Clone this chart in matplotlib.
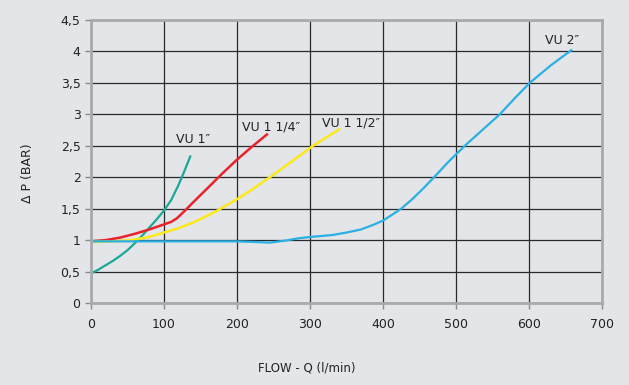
import matplotlib.pyplot as plt

# flow (l/min) / pressure drop (bar)
vu1_q = [0, 10, 20, 30, 40, 50, 60, 70, 80, 90, 100, 110, 120, 128, 136]
vu1_p = [0.47, 0.53, 0.6, 0.67, 0.75, 0.84, 0.95, 1.07, 1.2, 1.33, 1.47, 1.64, 1.88, 2.1, 2.33]

vu114_q = [0, 20, 40, 60, 80, 100, 110, 118, 128, 139, 160, 180, 200, 220, 241]
vu114_p = [0.98, 1.0, 1.04, 1.1, 1.17, 1.25, 1.29, 1.35, 1.46, 1.59, 1.83, 2.06, 2.28, 2.48, 2.68]

vu112_q = [0, 30, 54, 80, 100, 120, 142, 170, 200, 220, 245, 275, 304, 340]
vu112_p = [0.97, 0.98, 1.0, 1.05, 1.12, 1.19, 1.29, 1.45, 1.65, 1.8, 2.0, 2.25, 2.5, 2.76]

vu2_q = [0, 100, 200, 225, 245, 265, 285, 300, 330, 350, 370, 386, 400, 412, 425,
         440, 455, 470, 490, 513, 537, 560, 580, 601, 630, 658]
vu2_p = [0.98, 0.98, 0.98, 0.97, 0.96, 0.99, 1.03, 1.05, 1.08, 1.12, 1.17, 1.24, 1.31, 1.4, 1.5,
         1.65, 1.82, 2.0, 2.25, 2.51, 2.76, 3.0, 3.25, 3.5, 3.78, 4.02]

bg = "#e4e5e8"
fig = plt.figure(figsize=(6.29, 3.85), dpi=100, facecolor=bg)
ax = fig.add_axes([91 / 629, 1 - 303 / 385, 511 / 629, 283 / 385], facecolor=bg)

ax.plot(vu1_q, vu1_p, color="#1aa897", lw=1.6)
ax.plot(vu114_q, vu114_p, color="#e8232b", lw=1.8)
ax.plot(vu112_q, vu112_p, color="#fbe91a", lw=1.8)
ax.plot(vu2_q, vu2_p, color="#2ab0e2", lw=1.6)

ax.text(117, 2.6, "VU 1\u2033", fontsize=9, color="#222222", va="center")
ax.text(207, 2.8, "VU 1 1/4\u2033", fontsize=9, color="#222222", va="center")
ax.text(317, 2.86, "VU 1 1/2\u2033", fontsize=9, color="#222222", va="center")
ax.text(622, 4.18, "VU 2\u2033", fontsize=9, color="#222222", va="center")

ax.set_xlim(0, 700)
ax.set_ylim(0, 4.5)
ax.set_xticks(range(0, 701, 100))
yt = [0, 0.5, 1, 1.5, 2, 2.5, 3, 3.5, 4, 4.5]
ax.set_yticks(yt)
ax.set_yticklabels([("%g" % v).replace(".", ",") for v in yt])
ax.grid(True, color="#2a2a2a", lw=0.9)
ax.set_axisbelow(True)
for s in ax.spines.values():
    s.set_color("#a9aaad")
    s.set_linewidth(2)
ax.tick_params(colors="#8a8a8a", labelcolor="#222222", labelsize=9, length=4, width=1)
ax.tick_params(axis="x", pad=7)

fig.text(27 / 629, 1 - 173 / 385, "\u0394 P (BAR)", rotation=90, fontsize=9, color="#222222",
         ha="center", va="center")
fig.text(307 / 629, 1 - 368 / 385, "FLOW - Q (l/min)", fontsize=8.5, color="#222222",
         ha="center", va="center")

fig.savefig("out.png", dpi=100, facecolor=bg)
